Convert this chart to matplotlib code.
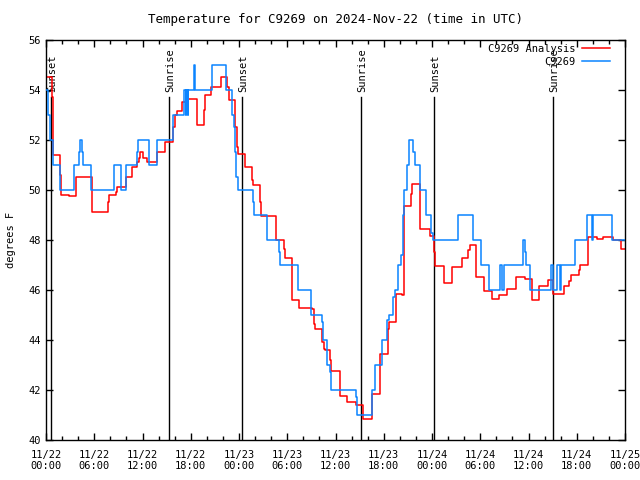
import datetime as dt
import matplotlib
matplotlib.use("Agg")
import matplotlib.pyplot as plt
from matplotlib.ticker import MultipleLocator, FixedLocator

# hours after 2024-11-22 00:00 UTC, temperature in degrees F (step series)
obs_hours = [0.0, 0.25, 0.45, 0.85, 1.8, 3.45, 4.1, 4.25, 4.5, 4.6, 5.55, 8.45, 9.35, 9.95,
             11.3, 11.45, 12.75, 13.8, 15.85, 17.2, 17.35, 17.45, 17.6, 17.7, 18.45, 18.55,
             20.6, 22.4, 23.15, 23.35, 23.5, 23.65, 23.85, 25.8, 25.9, 27.5, 28.95, 29.05,
             31.3, 32.9, 33.0, 34.3, 34.45, 34.9, 35.0, 35.35, 35.45, 38.55, 38.7, 40.55,
             40.9, 41.75, 42.45, 42.6, 43.2, 43.4, 43.75, 44.15, 44.35, 44.5, 44.85, 45.1,
             45.6, 45.85, 46.5, 47.2, 47.9, 48.1, 51.2, 53.1, 54.1, 55.05, 56.45, 56.75,
             57.0, 59.3, 59.55, 59.75, 60.2, 62.75, 63.1, 63.6, 63.9, 64.1, 65.75, 67.25,
             67.95, 68.05, 70.4, 72.0]
obs_temps = [54, 53, 52, 51, 50, 51, 51.5, 52, 51.5, 51, 50, 51, 50, 51,
             51.5, 52, 51, 52, 53, 54, 53, 54, 53, 54, 55, 54,
             55, 54, 53, 52.5, 51.5, 50.5, 50, 49.5, 49, 48, 47.5, 47,
             46, 45.5, 45, 44.7, 44, 43.5, 43, 42.7, 42, 41.7, 41, 42,
             43, 44, 44.8, 45, 45.7, 46, 47, 47.4, 49, 50, 51, 52,
             51.5, 51, 50, 49, 48.3, 48, 49, 48, 47, 46, 47, 46,
             47, 48, 47.5, 47, 46, 47, 46, 47, 46, 47, 48, 49,
             48, 49, 48, 48]

ana_hours = [0.0, 0.75, 0.83, 1.74, 1.83, 2.86, 3.73, 4.56, 5.72, 6.8, 7.75, 7.87, 8.7, 8.79,
             9.91, 10.73, 11.28, 11.53, 11.69, 12.02, 12.52, 13.84, 14.76, 15.83, 16.0,
             16.33, 16.87, 17.62, 18.74, 19.65, 19.81, 20.56, 21.72, 22.54, 22.79, 23.54,
             23.71, 23.88, 24.71, 25.58, 25.7, 26.61, 26.7, 28.56, 29.63, 29.72, 30.55,
             31.5, 33.04, 33.29, 33.45, 34.28, 34.36, 34.53, 34.69, 35.32, 35.44, 36.6,
             37.47, 38.51, 39.38, 40.58, 41.53, 42.56, 42.69, 43.52, 44.23, 44.55, 45.39,
             45.51, 46.51, 47.75, 48.29, 48.37, 49.49, 50.45, 51.69, 52.51, 52.72, 53.47,
             54.46, 55.46, 56.37, 57.29, 58.41, 59.56, 60.4, 61.34, 62.39, 63.1, 64.37,
             65.07, 65.28, 66.28, 66.4, 67.36, 67.43, 68.48, 69.3, 70.47, 71.5, 72.0]
ana_temps = [54.5, 53.7, 51.4, 50.6, 49.8, 49.75, 50.5, 50.5, 49.1, 49.1, 49.5, 49.8, 49.9, 50.1,
             50.5, 50.9, 51.1, 51.3, 51.5, 51.3, 51.1, 51.5, 51.9, 52.5, 53.0,
             53.15, 53.5, 53.65, 52.6, 53.2, 53.8, 54.1, 54.5, 54.1, 53.6, 52.5,
             51.7, 51.45, 50.9, 50.4, 50.2, 49.5, 48.95, 48.0, 47.65, 47.3, 45.6,
             45.3, 45.25, 44.65, 44.45, 44.25, 43.9, 43.65, 43.6, 43.2, 42.75, 41.75,
             41.5, 41.4, 40.85, 41.85, 43.45, 44.45, 44.7, 45.85, 45.8, 49.35, 49.85,
             50.25, 48.45, 48.15, 47.5, 46.95, 46.3, 46.9, 47.3, 47.6, 47.8, 46.5,
             45.95, 45.65, 45.8, 46.05, 46.5, 46.45, 45.6, 46.15, 46.4, 45.85, 46.15,
             46.35, 46.6, 46.8, 47.0, 47.55, 48.1, 48.05, 48.1, 48.0, 47.65, 47.65]

sun_hours = [0.62, 15.3, 24.37, 39.17, 48.25, 63.05]
sun_labels = ["Sunset", "Sunrise", "Sunset", "Sunrise", "Sunset", "Sunrise"]

start = dt.datetime(2024, 11, 22)
tick_hours = list(range(0, 73, 6))
tick_labels = [(start + dt.timedelta(hours=h)).strftime("%m/%d\n%H:%M") for h in tick_hours]

plt.rcParams["font.family"] = "DejaVu Sans Mono"
plt.rcParams["font.size"] = 7.5

fig = plt.figure(figsize=(6.4, 4.8), dpi=100)
ax = fig.add_axes([46 / 640, 40 / 480, 579 / 640, 400 / 480])

for h, lab in zip(sun_hours, sun_labels):
    ax.plot([h, h], [40, 53.7], color="black", lw=1.0, zorder=1)
    ax.text(h + 0.15, 53.9, lab, rotation=90, ha="center", va="bottom", zorder=1)

ax.plot(ana_hours, ana_temps, drawstyle="steps-post", color="#ff0000", lw=1.1,
        label="C9269 Analysis", zorder=2)
ax.plot(obs_hours, obs_temps, drawstyle="steps-post", color="#0a84ff", lw=1.1,
        label="C9269", zorder=3)

ax.set_xlim(0, 72)
ax.set_ylim(40, 56)
ax.xaxis.set_major_locator(FixedLocator(tick_hours))
ax.set_xticklabels(tick_labels)
ax.xaxis.set_minor_locator(MultipleLocator(2))
ax.yaxis.set_major_locator(MultipleLocator(2))
ax.tick_params(which="both", direction="in", top=True, right=True, width=1)
ax.tick_params(which="major", length=5)
ax.tick_params(which="minor", length=3)
ax.tick_params(axis="x", pad=7)
for s in ax.spines.values():
    s.set_linewidth(1)

ax.set_ylabel("degrees F", labelpad=9)
ax.set_title("Temperature for C9269 on 2024-Nov-22 (time in UTC)", pad=12)
ax.legend(loc="upper right", bbox_to_anchor=(0.9775, 0.995), frameon=False,
          markerfirst=False, handlelength=2.7, labelspacing=0.25, borderpad=0.2,
          handletextpad=0.6, borderaxespad=0)

fig.savefig("out.png", dpi=100)
